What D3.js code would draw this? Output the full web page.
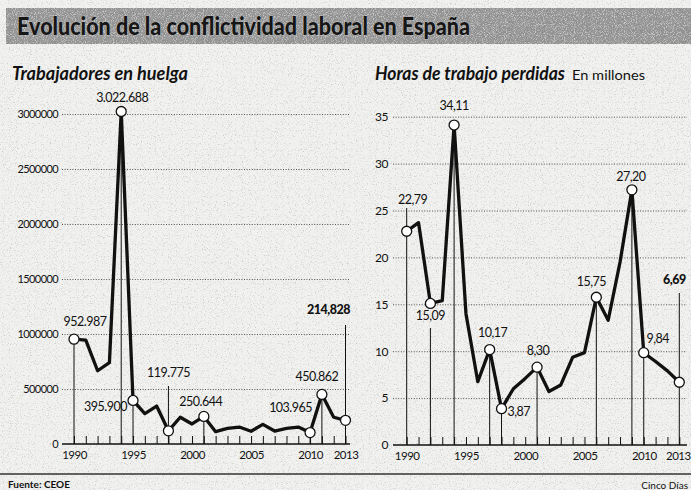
<!DOCTYPE html>
<html>
<head>
<meta charset="utf-8">
<script src="https://cdn.jsdelivr.net/npm/d3@7/dist/d3.min.js"></script>
<style>
  html, body { margin: 0; padding: 0; background: #f1f1ef; }
  svg { display: block; }
  text { font-family: Lato, "Open Sans", sans-serif; fill: #111; }
</style>
</head>
<body>
<svg id="chart" width="691" height="490"></svg>
<script>
// ---------- DATA ----------
const years = [1990,1991,1992,1993,1994,1995,1996,1997,1998,1999,2000,2001,2002,2003,2004,2005,2006,2007,2008,2009,2010,2011,2012,2013];
const workers = [952987,945000,666000,740000,3022688,395900,276000,345000,119775,243000,182000,250644,112000,142000,154000,116000,179000,118000,142000,154000,103965,450862,243000,214828];
const hours = [22.79,23.7,15.09,15.4,34.11,14.0,6.75,10.17,3.87,6.0,7.1,8.30,5.7,6.4,9.35,9.85,15.75,13.3,19.5,27.20,9.84,8.9,7.9,6.69];
const xTickLabels = [1990,1995,2000,2005,2010,2013];
const workersTicks = [0,500000,1000000,1500000,2000000,2500000,3000000];
const hoursTicks = [0,5,10,15,20,25,30,35];
const workersMarked = [1990,1994,1995,1998,2001,2010,2011,2013];
const workersLabels = ["952.987","3.022.688","395.900","119.775","250.644","103.965","450.862","214,828"];
const hoursMarked = [1990,1992,1994,1997,1998,2001,2006,2009,2010,2013];
const hoursLabels = ["22,79","15,09","34,11","10,17","3,87","8,30","15,75","27,20","9,84","6,69"];
const titleText = "Evolución de la conflictividad laboral en España";
const leftTitle = "Trabajadores en huelga";
const rightTitle = "Horas de trabajo perdidas";
const rightUnit = "En millones";
const sourceText = "Fuente: CEOE";
const creditText = "Cinco Días";

// ---------- LAYOUT (positions/styles) ----------
const svg = d3.select("#chart");
const defs = svg.append("defs");
const f1 = defs.append("filter").attr("id","speck").attr("x",0).attr("y",0).attr("width","100%").attr("height","100%");
f1.append("feTurbulence").attr("type","fractalNoise").attr("baseFrequency",0.85).attr("numOctaves",2).attr("seed",7);
f1.append("feColorMatrix").attr("type","matrix")
  .attr("values","0 0 0 0 0.2  0 0 0 0 0.2  0 0 0 0 0.2  3.2 0 0 0 -1.75");
const f2 = defs.append("filter").attr("id","speck2").attr("x",0).attr("y",0).attr("width","100%").attr("height","100%");
f2.append("feTurbulence").attr("type","fractalNoise").attr("baseFrequency",1.1).attr("numOctaves",1).attr("seed",3);
f2.append("feColorMatrix").attr("type","matrix")
  .attr("values","0 0 0 0 1  0 0 0 0 1  0 0 0 0 1  4 0 0 0 -1.9");

// background speckle
svg.append("rect").attr("width",691).attr("height",490).attr("fill","#f1f1ef");
svg.append("rect").attr("width",691).attr("height",490).attr("filter","url(#speck)").attr("opacity",0.35);

// title band
svg.append("rect").attr("x",6).attr("y",8).attr("width",685).attr("height",36).attr("fill","#949494");
svg.append("rect").attr("x",6).attr("y",8).attr("width",685).attr("height",36).attr("filter","url(#speck)").attr("opacity",0.7);
svg.append("rect").attr("x",6).attr("y",8).attr("width",685).attr("height",36).attr("filter","url(#speck2)").attr("opacity",0.5);
svg.append("text").attr("x",17).attr("y",35).attr("font-size",24).attr("font-weight",900)
  .attr("textLength",453).attr("lengthAdjust","spacingAndGlyphs")
  .style("fill","#161616").style("stroke","#cfcfcf").style("stroke-width",0.6).style("paint-order","stroke")
  .text(titleText);

// subtitles
svg.append("text").attr("x",12).attr("y",80).attr("font-size",18).attr("font-weight",700).attr("font-style","italic")
  .attr("textLength",176).attr("lengthAdjust","spacingAndGlyphs").text(leftTitle);
svg.append("text").attr("x",375).attr("y",80).attr("font-size",18).attr("font-weight",700).attr("font-style","italic")
  .attr("textLength",190).attr("lengthAdjust","spacingAndGlyphs").text(rightTitle);
svg.append("text").attr("x",572).attr("y",80).attr("font-size",14)
  .attr("textLength",73).attr("lengthAdjust","spacingAndGlyphs").text(rightUnit);

// footer
svg.append("line").attr("x1",0).attr("x2",691).attr("y1",474).attr("y2",474).attr("stroke","#333").attr("stroke-width",1.6);
svg.append("text").attr("x",8).attr("y",488).attr("font-size",10).attr("font-weight",700).text(sourceText);
svg.append("text").attr("x",688).attr("y",489).attr("font-size",10).attr("text-anchor","end").text(creditText);

function panel(cfg) {
  const g = svg.append("g");
  const x = d3.scaleLinear().domain([years[0], years[years.length-1]]).range(cfg.xRange);
  const y = d3.scaleLinear().domain([0, cfg.yMax]).range(cfg.yRange);
  const gridW = cfg.gridX[1] - cfg.gridX[0];

  // y axis with gridlines
  const ya = g.append("g").attr("transform",`translate(${cfg.gridX[0]},0)`)
    .call(d3.axisLeft(y).tickValues(cfg.ticks).tickSize(-gridW).tickPadding(cfg.tickPad).tickFormat(d3.format("d")));
  ya.select(".domain").remove();
  ya.selectAll(".tick line").attr("stroke","#444").attr("stroke-width",0.9).attr("stroke-dasharray","1,1.6")
    .filter(d => d === 0).remove();
  ya.selectAll(".tick text").attr("font-size",cfg.yFont).attr("letter-spacing",cfg.yLS).style("font-family","Lato, sans-serif").attr("fill","#111");

  // drop lines
  cfg.marked.forEach((yr, i) => {
    const v = cfg.values[years.indexOf(yr)];
    const top = cfg.dropTop[i] === null ? y(v) : cfg.dropTop[i];
    g.append("line").attr("x1",x(yr)).attr("x2",x(yr)).attr("y1",top).attr("y2",y(0))
      .attr("stroke","#111").attr("stroke-width",1);
  });

  // x axis
  const xa = g.append("g").attr("transform",`translate(0,${y(0)})`)
    .call(d3.axisBottom(x).tickValues(years).tickSize(-8).tickPadding(7)
      .tickFormat(d => xTickLabels.includes(d) ? d : ""));
  xa.select(".domain").remove();
  xa.selectAll(".tick line").attr("stroke","#111").attr("stroke-width",1);
  xa.selectAll(".tick text").attr("font-size",11.5).attr("letter-spacing",-0.5).style("font-family","Lato, sans-serif").attr("fill","#111")
    .attr("dx", d => d === years[years.length-1] ? cfg.lastDx : 0);
  g.append("line").attr("x1",cfg.gridX[0]).attr("x2",cfg.gridX[1]).attr("y1",y(0)).attr("y2",y(0))
    .attr("stroke","#111").attr("stroke-width",1.6);

  // data line
  const line = d3.line().x((d,i) => x(years[i])).y(d => y(d));
  g.append("path").datum(cfg.values).attr("d",line).attr("fill","none")
    .attr("stroke","#111").attr("stroke-width",3.3).attr("stroke-linejoin","round");

  // marked points + labels
  cfg.marked.forEach((yr, i) => {
    const v = cfg.values[years.indexOf(yr)];
    g.append("circle").attr("cx",x(yr)).attr("cy",y(v)).attr("r",5)
      .attr("fill","#fff").attr("stroke","#111").attr("stroke-width",1.3);
    const o = cfg.offsets[i];
    g.append("text").attr("x",x(yr)+o[0]).attr("y",y(v)+o[1]).attr("text-anchor",o[2])
      .attr("font-size",12.5).attr("letter-spacing",-0.5).attr("font-weight",o[3] ? 900 : 400)
      .text(cfg.labels[i]);
  });
}

panel({
  values: workers, yMax: 3000000, ticks: workersTicks,
  xRange: [74, 345.5], yRange: [444, 114], gridX: [62, 350], tickPad: 4, yFont: 11, yLS: -0.6, lastDx: 0,
  marked: workersMarked, labels: workersLabels,
  dropTop: [null, null, null, 386, null, null, null, 325],
  offsets: [[11,-13,"middle"],[1,-10,"middle"],[-6,11,"end"],[0,-54,"middle"],[-3,-10,"middle"],[2,-21,"end"],[-5,-13,"middle"],[-17,-106,"middle",true]]
});

panel({
  values: hours, yMax: 35, ticks: hoursTicks,
  xRange: [406.7, 679.3], yRange: [445, 116.7], gridX: [393, 687], tickPad: 5, yFont: 12, yLS: -0.5, lastDx: -1.5,
  marked: hoursMarked, labels: hoursLabels,
  dropTop: [208, 328, null, null, null, null, null, null, null, 293],
  offsets: [[6,-27,"middle"],[0,17,"middle"],[0,-15,"middle"],[3,-13,"middle"],[6,7,"start"],[1,-12,"middle"],[-5,-11,"middle"],[-1,-9,"middle"],[14,-10,"middle"],[-5,-98,"middle",true]]
});
</script>
</body>
</html>
